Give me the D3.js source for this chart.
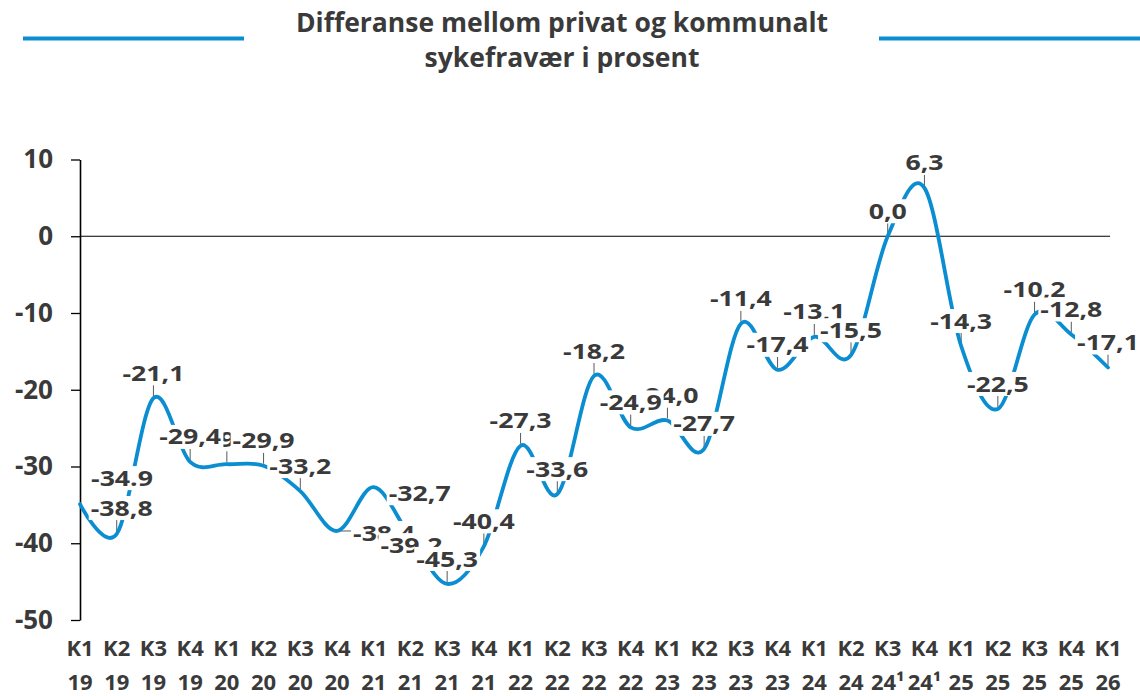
<!DOCTYPE html>
<html>
<head>
<meta charset="utf-8">
<script src="https://cdn.jsdelivr.net/npm/d3@7"></script>
<style>
  html, body { margin: 0; padding: 0; background: #ffffff; }
  svg { display: block; font-family: "Open Sans", "Noto Sans", sans-serif; }
</style>
</head>
<body>
<svg id="chart" width="1140" height="696"></svg>
<script>
// ---------- data ----------
const quarters = ["K1","K2","K3","K4","K1","K2","K3","K4","K1","K2","K3","K4","K1","K2","K3","K4","K1","K2","K3","K4","K1","K2","K3","K4","K1","K2","K3","K4","K1"];
const years = ["19","19","19","19","20","20","20","20","21","21","21","21","22","22","22","22","23","23","23","23","24","24","24¹","24¹","25","25","25","25","26"];
const values = [-34.9,-38.8,-21.1,-29.4,-29.7,-29.9,-33.2,-38.4,-32.7,-39.2,-45.3,-40.4,-27.3,-33.6,-18.2,-24.9,-24.0,-27.7,-11.4,-17.4,-13.1,-15.5,0.0,6.3,-14.3,-22.5,-10.2,-12.8,-17.1];
const yTicks = [-50,-40,-30,-20,-10,0,10];
const titleLines = ["Differanse mellom privat og kommunalt", "sykefravær i prosent"];
const labelTextOverrides = {0: "-34.9"};

// ---------- layout / style ----------
const categories = quarters.map((q, i) => q + " " + years[i]);
const blue = "#0a8dd1";
const textCol = "#3a3a3a";
const labelOffsets = {0: [42, -26], 1: [5, -26], 7: [47, 2], 8: [46, 6], 9: [1, 8]};
const defaultOffset = [0, -25];
const buried = [4, 7, 9, 16, 20, 26];
const hyphen = s => s.replace(/\u2212/g, "-");

const svg = d3.select("#chart");

const x = d3.scalePoint().domain(categories).range([80, 1108]);
const y = d3.scaleLinear().domain([-50, 10]).range([620, 159.5]);

// ---------- title ----------
svg.append("line").attr("x1", 23).attr("x2", 244).attr("y1", 38.5).attr("y2", 38.5)
  .attr("stroke", blue).attr("stroke-width", 4);
svg.append("line").attr("x1", 879).attr("x2", 1140).attr("y1", 38.5).attr("y2", 38.5)
  .attr("stroke", blue).attr("stroke-width", 4);
svg.append("g").selectAll("text").data(titleLines).join("text")
  .attr("x", 562).attr("y", (d, i) => 32 + i * 35)
  .attr("text-anchor", "middle")
  .attr("font-size", 26.5).attr("font-weight", 700).attr("fill", textCol)
  .text(d => d);

// ---------- y axis ----------
const yAxis = svg.append("g").attr("transform", "translate(80,0)")
  .call(d3.axisLeft(y).tickValues(yTicks).tickSize(9).tickSizeOuter(0).tickPadding(18)
    .tickFormat(d => hyphen(d3.format("d")(d))));
yAxis.select(".domain").attr("stroke", "#000").attr("stroke-width", 1.6);
yAxis.selectAll(".tick line").attr("stroke", "#000").attr("stroke-width", 1.3);
yAxis.selectAll(".tick text").attr("font-size", 26).attr("font-weight", 700).attr("fill", textCol)
  .attr("font-family", "'Open Sans', sans-serif");

// zero line
svg.append("line").attr("x1", 80).attr("x2", 1110).attr("y1", y(0)).attr("y2", y(0))
  .attr("stroke", "#000").attr("stroke-width", 1.2);

// ---------- x labels ----------
const xl = svg.append("g");
categories.forEach((c, i) => {
  const t = xl.append("text").attr("text-anchor", "middle")
    .attr("font-size", 22).attr("font-weight", 700).attr("fill", textCol);
  t.append("tspan").attr("x", x(c)).attr("y", 656).text(quarters[i]);
  t.append("tspan").attr("x", x(c)).attr("y", 690).text(years[i]);
});

// ---------- leader lines ----------
const lead = svg.append("g").attr("stroke", "#595959").attr("stroke-width", 1);
values.forEach((v, i) => {
  const px = x(categories[i]), py = y(v);
  const off = labelOffsets[i] || defaultOffset;
  if (i === 7) {
    lead.append("line").attr("x1", px + 3).attr("x2", px + off[0] - 30).attr("y1", py).attr("y2", py);
  } else if (i === 1 || (!labelOffsets[i])) {
    lead.append("line").attr("x1", px).attr("x2", px).attr("y1", py + off[1] + 12).attr("y2", py - 2);
  }
});

// ---------- line ----------
const line = d3.line().x((d, i) => x(categories[i])).y(d => y(d)).curve(d3.curveCardinal.tension(0));
svg.append("path").datum(values).attr("d", line)
  .attr("fill", "none").attr("stroke", blue).attr("stroke-width", 3.8).attr("stroke-linecap", "round");

// ---------- data labels ----------
const fmt = i => labelTextOverrides[i] !== undefined ? labelTextOverrides[i] : hyphen(d3.format(".1f")(values[i])).replace(".", ",");
const order = buried.concat(d3.range(values.length).filter(i => !buried.includes(i)));
const lg = svg.append("g");
const sx = 1.27;
order.forEach(i => {
  const px = x(categories[i]), py = y(values[i]);
  const off = labelOffsets[i] || defaultOffset;
  const g = lg.append("g").attr("transform", `translate(${px + off[0]},${py + off[1]})`);
  const rect = g.append("rect").attr("fill", "#fff");
  const t = g.append("text").attr("text-anchor", "middle").attr("dy", "0.36em")
    .attr("transform", `scale(${sx},1)`)
    .attr("font-size", 21).attr("font-weight", 700).attr("fill", textCol)
    .text(fmt(i));
  const bb = t.node().getBBox();
  rect.attr("x", bb.x * sx - 2).attr("width", bb.width * sx + 4)
      .attr("y", -12).attr("height", 24);
});
</script>
</body>
</html>
